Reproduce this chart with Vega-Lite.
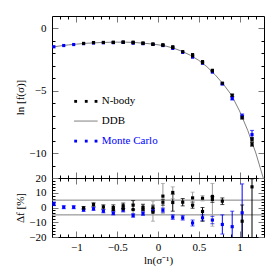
{
 "$schema": "https://vega.github.io/schema/vega-lite/v6.json",
 "padding": {"left": 14, "top": 15, "right": 5, "bottom": 5},
 "spacing": 0,
 "bounds": "flush",
 "config": {
   "font": "Liberation Serif",
   "view": {"stroke": null},
   "axis": {"grid": false, "domainColor": "#000", "domainWidth": 1, "tickColor": "#000", "tickWidth": 1, "labelFontSize": 11, "labelColor": "#000", "titleFontSize": 11, "titleFontWeight": "normal", "titleColor": "#000", "labelFont": "Liberation Serif", "titleFont": "Liberation Serif", "labelOverlap": false, "labelFlush": false}
 },
 "resolve": {"scale": {"color": "independent"}},
 "datasets": {
   "ddb": [
     {"x": -1.3, "v": -1.49}, {"x": -1.2, "v": -1.40}, {"x": -1.1, "v": -1.32}, {"x": -1.0, "v": -1.26},
     {"x": -0.9, "v": -1.20}, {"x": -0.8, "v": -1.16}, {"x": -0.7, "v": -1.13}, {"x": -0.6, "v": -1.11},
     {"x": -0.5, "v": -1.10}, {"x": -0.4, "v": -1.10}, {"x": -0.3, "v": -1.12}, {"x": -0.2, "v": -1.17},
     {"x": -0.1, "v": -1.23}, {"x": 0.0, "v": -1.31}, {"x": 0.1, "v": -1.42}, {"x": 0.2, "v": -1.60},
     {"x": 0.3, "v": -1.85}, {"x": 0.4, "v": -2.16}, {"x": 0.5, "v": -2.56}, {"x": 0.6, "v": -3.07},
     {"x": 0.7, "v": -3.71}, {"x": 0.8, "v": -4.46}, {"x": 0.9, "v": -5.33}, {"x": 1.0, "v": -6.62},
     {"x": 1.1, "v": -8.17}, {"x": 1.2, "v": -10.0}, {"x": 1.3, "v": -12.2}
   ],
   "pts": [
     {"x": -1.277, "set": "mc", "v": -1.47}, {"x": -1.156, "set": "mc", "v": -1.37},
     {"x": -1.034, "set": "mc", "v": -1.29}, {"x": -0.913, "set": "mc", "v": -1.22},
     {"x": -0.791, "set": "mc", "v": -1.17}, {"x": -0.670, "set": "mc", "v": -1.15},
     {"x": -0.548, "set": "mc", "v": -1.14}, {"x": -0.427, "set": "mc", "v": -1.12},
     {"x": -0.305, "set": "mc", "v": -1.18}, {"x": -0.184, "set": "mc", "v": -1.22},
     {"x": -0.062, "set": "mc", "v": -1.28}, {"x": 0.060, "set": "mc", "v": -1.37},
     {"x": 0.181, "set": "mc", "v": -1.60}, {"x": 0.303, "set": "mc", "v": -1.92},
     {"x": 0.424, "set": "mc", "v": -2.30}, {"x": 0.546, "set": "mc", "v": -2.79},
     {"x": 0.667, "set": "mc", "v": -3.50}, {"x": 0.789, "set": "mc", "v": -4.45, "lo": -4.52, "hi": -4.38},
     {"x": 0.910, "set": "mc", "v": -5.62, "lo": -5.74, "hi": -5.50}, {"x": 1.032, "set": "mc", "v": -7.02, "lo": -7.18, "hi": -6.86},
     {"x": 1.153, "set": "mc", "v": -8.52, "lo": -8.86, "hi": -8.18},
     {"x": -0.913, "set": "nbody_a", "v": -1.20}, {"x": -0.791, "set": "nbody_a", "v": -1.13},
     {"x": -0.670, "set": "nbody_a", "v": -1.12}, {"x": -0.548, "set": "nbody_a", "v": -1.11},
     {"x": -0.427, "set": "nbody_a", "v": -1.09}, {"x": -0.305, "set": "nbody_a", "v": -1.10},
     {"x": -0.184, "set": "nbody_a", "v": -1.17}, {"x": -0.062, "set": "nbody_a", "v": -1.25},
     {"x": 0.060, "set": "nbody_a", "v": -1.34}, {"x": 0.181, "set": "nbody_a", "v": -1.52},
     {"x": 0.303, "set": "nbody_a", "v": -1.86}, {"x": 0.424, "set": "nbody_a", "v": -2.19},
     {"x": 0.546, "set": "nbody_a", "v": -2.74}, {"x": 0.667, "set": "nbody_a", "v": -3.41},
     {"x": 0.789, "set": "nbody_a", "v": -4.39}, {"x": 0.910, "set": "nbody_a", "v": -5.36, "lo": -5.45, "hi": -5.27},
     {"x": 1.153, "set": "nbody_a", "v": -9.30, "lo": -9.45, "hi": -9.15},
     {"x": -0.548, "set": "nbody_b", "v": -1.12}, {"x": -0.427, "set": "nbody_b", "v": -1.11},
     {"x": -0.305, "set": "nbody_b", "v": -1.14}, {"x": -0.184, "set": "nbody_b", "v": -1.19},
     {"x": -0.062, "set": "nbody_b", "v": -1.27}, {"x": 0.060, "set": "nbody_b", "v": -1.31},
     {"x": 0.181, "set": "nbody_b", "v": -1.47}, {"x": 0.424, "set": "nbody_b", "v": -2.10},
     {"x": 0.546, "set": "nbody_b", "v": -2.66}, {"x": 0.667, "set": "nbody_b", "v": -3.36},
     {"x": 1.032, "set": "nbody_b", "v": -7.14, "lo": -7.28, "hi": -7.00},
     {"x": 1.153, "set": "nbody_b", "v": -8.90, "lo": -9.05, "hi": -8.75}
   ],
   "res": [
     {"x": -1.277, "set": "mc", "d": 2.5, "lo": 1.3, "hi": 3.7},
     {"x": -1.156, "set": "mc", "d": 0.2, "lo": -0.8, "hi": 1.2},
     {"x": -1.034, "set": "mc", "d": 0.2, "lo": -0.8, "hi": 1.2},
     {"x": -0.913, "set": "mc", "d": -1.6, "lo": -2.6, "hi": -0.6},
     {"x": -0.791, "set": "mc", "d": -0.9, "lo": -1.9, "hi": 0.1},
     {"x": -0.670, "set": "mc", "d": -2.5, "lo": -3.6, "hi": -1.4},
     {"x": -0.548, "set": "mc", "d": -3.9, "lo": -5.0, "hi": -2.8},
     {"x": -0.427, "set": "mc", "d": -1.8, "lo": -3.0, "hi": -0.6},
     {"x": -0.305, "set": "mc", "d": -5.4, "lo": -6.6, "hi": -4.2},
     {"x": -0.184, "set": "mc", "d": -4.1, "lo": -5.3, "hi": -2.9},
     {"x": -0.062, "set": "mc", "d": -1.8, "lo": -3.0, "hi": -0.6},
     {"x": 0.060, "set": "mc", "d": -1.8, "lo": -3.2, "hi": -0.4},
     {"x": 0.181, "set": "mc", "d": -6.5, "lo": -8.0, "hi": -5.0},
     {"x": 0.303, "set": "mc", "d": -7.0, "lo": -8.5, "hi": -5.5},
     {"x": 0.424, "set": "mc", "d": -10.5, "lo": -12.5, "hi": -8.5},
     {"x": 0.546, "set": "mc", "d": -7.0, "lo": -9.0, "hi": -5.0},
     {"x": 0.667, "set": "mc", "d": -8.5, "lo": -11.0, "hi": -6.0},
     {"x": 0.789, "set": "mc", "d": -11.5, "lo": -18.0, "hi": -5.0},
     {"x": 0.910, "set": "mc", "d": -13.0, "lo": -24.0, "hi": -2.5},
     {"x": 1.032, "set": "mc", "d": -3.6, "lo": -25.0, "hi": 16.0},
     {"x": -0.913, "set": "nbody_a", "d": -0.3, "lo": -1.3, "hi": 0.7},
     {"x": -0.791, "set": "nbody_a", "d": 2.0, "lo": 0.8, "hi": 3.2},
     {"x": -0.670, "set": "nbody_a", "d": 0.4, "lo": -1.0, "hi": 1.8},
     {"x": -0.548, "set": "nbody_a", "d": 0.0, "lo": -1.8, "hi": 1.8},
     {"x": -0.427, "set": "nbody_a", "d": 1.2, "lo": -0.6, "hi": 3.0},
     {"x": -0.305, "set": "nbody_a", "d": 1.6, "lo": -1.5, "hi": 4.7},
     {"x": -0.184, "set": "nbody_a", "d": 0.2, "lo": -1.8, "hi": 2.2},
     {"x": -0.062, "set": "nbody_a", "d": -0.2, "lo": -2.0, "hi": 1.6},
     {"x": 0.060, "set": "nbody_a", "d": 3.6, "lo": 1.6, "hi": 5.6},
     {"x": 0.181, "set": "nbody_a", "d": 3.4, "lo": -2.5, "hi": 9.0},
     {"x": 0.303, "set": "nbody_a", "d": 3.6, "lo": 1.1, "hi": 6.1},
     {"x": 0.424, "set": "nbody_a", "d": 1.6, "lo": -0.5, "hi": 3.7},
     {"x": 0.546, "set": "nbody_a", "d": -2.7, "lo": -9.3, "hi": 0.0},
     {"x": 0.667, "set": "nbody_a", "d": 5.4, "lo": 3.5, "hi": 7.3},
     {"x": 0.789, "set": "nbody_a", "d": 4.3, "lo": 2.0, "hi": 6.5},
     {"x": 1.032, "set": "nbody_a", "d": -9.3, "lo": -25.0, "hi": 1.7},
     {"x": 1.153, "set": "nbody_a", "d": 14.0, "lo": -25.0, "hi": 19.4},
     {"x": -0.548, "set": "nbody_b", "d": -1.3, "lo": -3.0, "hi": 0.4},
     {"x": -0.427, "set": "nbody_b", "d": -0.8, "lo": -2.5, "hi": 0.9},
     {"x": -0.305, "set": "nbody_b", "d": -1.4, "lo": -5.0, "hi": 2.2},
     {"x": -0.184, "set": "nbody_b", "d": -1.2, "lo": -3.0, "hi": 0.6},
     {"x": -0.062, "set": "nbody_b", "d": -3.2, "lo": -9.3, "hi": 4.3},
     {"x": 0.060, "set": "nbody_b", "d": 7.7, "lo": -4.0, "hi": 16.3},
     {"x": 0.181, "set": "nbody_b", "d": 10.2, "lo": 6.0, "hi": 14.0},
     {"x": 0.424, "set": "nbody_b", "d": 6.5, "lo": 1.8, "hi": 10.4},
     {"x": 0.546, "set": "nbody_b", "d": 6.3, "lo": 4.5, "hi": 8.1},
     {"x": 0.667, "set": "nbody_b", "d": 7.5, "lo": -12.7, "hi": 16.3}
   ],
   "hl": [{"y": 5}, {"y": -5}],
   "legpts": [
     {"lx": -1.01, "ly": -5.85, "set": "nbody_a"}, {"lx": -0.88, "ly": -5.85, "set": "nbody_a"}, {"lx": -0.76, "ly": -5.85, "set": "nbody_a"},
     {"lx": -1.01, "ly": -9.04, "set": "mc"}, {"lx": -0.88, "ly": -9.04, "set": "mc"}, {"lx": -0.76, "ly": -9.04, "set": "mc"}
   ],
   "legline": [{"lx": -1.03, "ly": -7.43}, {"lx": -0.74, "ly": -7.43}],
   "legtext": [
     {"lx": -0.69, "ly": -5.85, "label": "N-body", "set": "nbody_a"},
     {"lx": -0.69, "ly": -7.43, "label": "DDB", "set": "ddb"},
     {"lx": -0.69, "ly": -9.04, "label": "Monte Carlo", "set": "mc"}
   ]
 },
 "vconcat": [
  {
   "width": 212, "height": 162,
   "resolve": {"axis": {"x": "independent", "y": "independent"}, "scale": {"color": "independent"}},
   "layer": [
    {"data": {"name": "ddb"}, "mark": {"type": "line", "color": "#808080", "strokeWidth": 1, "clip": true},
     "encoding": {
       "x": {"field": "x", "type": "quantitative", "scale": {"domain": [-1.3, 1.3], "nice": false, "zero": false},
             "axis": {"orient": "bottom", "values": [-1, -0.5, 0, 0.5, 1], "labels": false, "tickSize": -6, "tickColor": "#777", "title": null}},
       "y": {"field": "v", "type": "quantitative", "scale": {"domain": [-12, 1], "nice": false, "zero": false},
             "axis": {"orient": "left", "values": [0, -5, -10], "format": "d", "tickSize": -6, "tickColor": "#777", "labelPadding": 12, "title": "ln [f(σ)]", "titleX": -32, "titleBaseline": "middle", "titleAngle": -90}}
     }},
    {"data": {"name": "pts"}, "transform": [{"filter": "isValid(datum.lo)"}], "mark": {"type": "rule", "strokeWidth": 1, "clip": true},
     "encoding": {
       "x": {"field": "x", "type": "quantitative", "axis": {"orient": "top", "values": [-1, -0.5, 0, 0.5, 1], "labels": false, "tickSize": -6, "tickColor": "#777", "title": null}},
       "y": {"field": "lo", "type": "quantitative", "axis": {"orient": "right", "values": [0, -5, -10], "labels": false, "tickSize": -6, "tickColor": "#777", "title": null}},
       "y2": {"field": "hi"},
       "color": {"field": "set", "type": "nominal", "scale": {"domain": ["nbody_a", "nbody_b", "mc", "ddb"], "range": ["#000000", "#000000", "#0000ff", "#000000"]}, "legend": null}
     }},
    {"data": {"name": "pts"}, "transform": [{"filter": "isValid(datum.lo)"}], "mark": {"type": "tick", "orient": "horizontal", "size": 4, "thickness": 1, "clip": true},
     "encoding": {
       "x": {"field": "x", "type": "quantitative", "axis": {"orient": "top", "values": [-1.2, -1.1, -0.9, -0.8, -0.7, -0.6, -0.4, -0.3, -0.2, -0.1, 0.1, 0.2, 0.3, 0.4, 0.6, 0.7, 0.8, 0.9, 1.1, 1.2], "labels": false, "domain": false, "tickSize": -3, "title": null}},
       "y": {"field": "lo", "type": "quantitative", "axis": {"orient": "right", "values": [-11, -9, -8, -7, -6, -4, -3, -2, -1], "labels": false, "domain": false, "tickSize": -3, "title": null}},
       "color": {"field": "set", "type": "nominal", "scale": {"domain": ["nbody_a", "nbody_b", "mc", "ddb"], "range": ["#000000", "#000000", "#0000ff", "#000000"]}, "legend": null}
     }},
    {"data": {"name": "pts"}, "transform": [{"filter": "isValid(datum.lo)"}], "mark": {"type": "tick", "orient": "horizontal", "size": 4, "thickness": 1, "clip": true},
     "encoding": {
       "x": {"field": "x", "type": "quantitative", "axis": null},
       "y": {"field": "hi", "type": "quantitative", "axis": null},
       "color": {"field": "set", "type": "nominal", "scale": {"domain": ["nbody_a", "nbody_b", "mc", "ddb"], "range": ["#000000", "#000000", "#0000ff", "#000000"]}, "legend": null}
     }},
    {"data": {"name": "pts"}, "mark": {"type": "point", "shape": "square", "filled": true, "size": 10, "opacity": 1, "clip": true},
     "encoding": {
       "x": {"field": "x", "type": "quantitative", "axis": {"orient": "bottom", "values": [-1.2, -1.1, -0.9, -0.8, -0.7, -0.6, -0.4, -0.3, -0.2, -0.1, 0.1, 0.2, 0.3, 0.4, 0.6, 0.7, 0.8, 0.9, 1.1, 1.2], "labels": false, "domain": false, "tickSize": -3, "title": null}},
       "y": {"field": "v", "type": "quantitative", "axis": {"orient": "left", "values": [-11, -9, -8, -7, -6, -4, -3, -2, -1], "labels": false, "domain": false, "tickSize": -3, "title": null}},
       "color": {"field": "set", "type": "nominal", "scale": {"domain": ["nbody_a", "nbody_b", "mc", "ddb"], "range": ["#000000", "#000000", "#0000ff", "#000000"]}, "legend": null}
     }},
    {"data": {"name": "legline"}, "mark": {"type": "line", "color": "#808080", "strokeWidth": 1},
     "encoding": {
       "x": {"field": "lx", "type": "quantitative", "axis": null},
       "y": {"field": "ly", "type": "quantitative", "axis": null}
     }},
    {"data": {"name": "legpts"}, "mark": {"type": "point", "shape": "square", "filled": true, "size": 8, "opacity": 1},
     "encoding": {
       "x": {"field": "lx", "type": "quantitative", "axis": null},
       "y": {"field": "ly", "type": "quantitative", "axis": null},
       "color": {"field": "set", "type": "nominal", "scale": {"domain": ["nbody_a", "nbody_b", "mc", "ddb"], "range": ["#000000", "#000000", "#0000ff", "#000000"]}, "legend": null}
     }},
    {"data": {"name": "legtext"}, "mark": {"type": "text", "align": "left", "baseline": "middle", "fontSize": 11, "font": "Liberation Serif"},
     "encoding": {
       "x": {"field": "lx", "type": "quantitative", "axis": null},
       "y": {"field": "ly", "type": "quantitative", "axis": null},
       "text": {"field": "label"},
       "color": {"field": "set", "type": "nominal", "scale": {"domain": ["nbody_a", "nbody_b", "mc", "ddb"], "range": ["#000000", "#000000", "#0000ff", "#000000"]}, "legend": null}
     }}
   ]
  },
  {
   "width": 212, "height": 59,
   "resolve": {"axis": {"x": "independent", "y": "independent"}, "scale": {"color": "independent"}},
   "layer": [
    {"data": {"name": "hl"}, "mark": {"type": "rule", "color": "#808080", "strokeWidth": 1},
     "encoding": {"y": {"field": "y", "type": "quantitative", "axis": null}}},
    {"data": {"name": "res"}, "mark": {"type": "rule", "strokeWidth": 1, "clip": true},
     "encoding": {
       "x": {"field": "x", "type": "quantitative", "axis": {"orient": "top", "values": [-1, -0.5, 0, 0.5, 1], "labels": false, "tickSize": -6, "tickColor": "#777", "title": null}},
       "y": {"field": "lo", "type": "quantitative", "axis": {"orient": "right", "values": [-20, -10, 0, 10, 20], "labels": false, "tickSize": -6, "tickColor": "#777", "title": null}},
       "y2": {"field": "hi"},
       "color": {"field": "set", "type": "nominal", "scale": {"domain": ["nbody_a", "nbody_b", "mc", "ddb"], "range": ["#000000", "#999999", "#0000ff", "#000000"]}, "legend": null}
     }},
    {"data": {"name": "res"}, "mark": {"type": "tick", "orient": "horizontal", "size": 4, "thickness": 1, "clip": true},
     "encoding": {
       "x": {"field": "x", "type": "quantitative", "axis": {"orient": "top", "values": [-1.2, -1.1, -0.9, -0.8, -0.7, -0.6, -0.4, -0.3, -0.2, -0.1, 0.1, 0.2, 0.3, 0.4, 0.6, 0.7, 0.8, 0.9, 1.1, 1.2], "labels": false, "domain": false, "tickSize": -3, "title": null}},
       "y": {"field": "lo", "type": "quantitative", "axis": {"orient": "right", "values": [-18, -16, -14, -12, -8, -6, -4, -2, 2, 4, 6, 8, 12, 14, 16, 18], "labels": false, "domain": false, "tickSize": -3, "title": null}},
       "color": {"field": "set", "type": "nominal", "scale": {"domain": ["nbody_a", "nbody_b", "mc", "ddb"], "range": ["#000000", "#999999", "#0000ff", "#000000"]}, "legend": null}
     }},
    {"data": {"name": "res"}, "mark": {"type": "tick", "orient": "horizontal", "size": 4, "thickness": 1, "clip": true},
     "encoding": {
       "x": {"field": "x", "type": "quantitative", "axis": null},
       "y": {"field": "hi", "type": "quantitative", "axis": null},
       "color": {"field": "set", "type": "nominal", "scale": {"domain": ["nbody_a", "nbody_b", "mc", "ddb"], "range": ["#000000", "#999999", "#0000ff", "#000000"]}, "legend": null}
     }},
    {"data": {"name": "res"}, "mark": {"type": "point", "shape": "square", "filled": true, "size": 10, "opacity": 1, "clip": true},
     "encoding": {
       "x": {"field": "x", "type": "quantitative", "scale": {"domain": [-1.3, 1.3], "nice": false, "zero": false},
             "axis": {"orient": "bottom", "values": [-1, -0.5, 0, 0.5, 1], "format": "~g", "tickSize": -6, "tickColor": "#777", "labelPadding": 10, "title": "ln(σ⁻¹)", "titleY": 23, "titleBaseline": "middle"}},
       "y": {"field": "d", "type": "quantitative", "scale": {"domain": [-20, 20], "nice": false, "zero": false},
             "axis": {"orient": "left", "values": [-20, -10, 0, 10, 20], "format": "d", "tickSize": -6, "tickColor": "#777", "labelPadding": 12, "title": "Δf [%]", "titleX": -32, "titleBaseline": "middle", "titleAngle": -90}},
       "color": {"field": "set", "type": "nominal", "scale": {"domain": ["nbody_a", "nbody_b", "mc", "ddb"], "range": ["#000000", "#000000", "#0000ff", "#000000"]}, "legend": null}
     }},
    {"data": {"name": "res"}, "mark": {"type": "point", "opacity": 0},
     "encoding": {
       "x": {"field": "x", "type": "quantitative", "axis": {"orient": "bottom", "values": [-1.2, -1.1, -0.9, -0.8, -0.7, -0.6, -0.4, -0.3, -0.2, -0.1, 0.1, 0.2, 0.3, 0.4, 0.6, 0.7, 0.8, 0.9, 1.1, 1.2], "labels": false, "domain": false, "tickSize": -3, "title": null}},
       "y": {"field": "d", "type": "quantitative", "axis": {"orient": "left", "values": [-18, -16, -14, -12, -8, -6, -4, -2, 2, 4, 6, 8, 12, 14, 16, 18], "labels": false, "domain": false, "tickSize": -3, "title": null}}
     }}
   ]
  }
 ]
}
